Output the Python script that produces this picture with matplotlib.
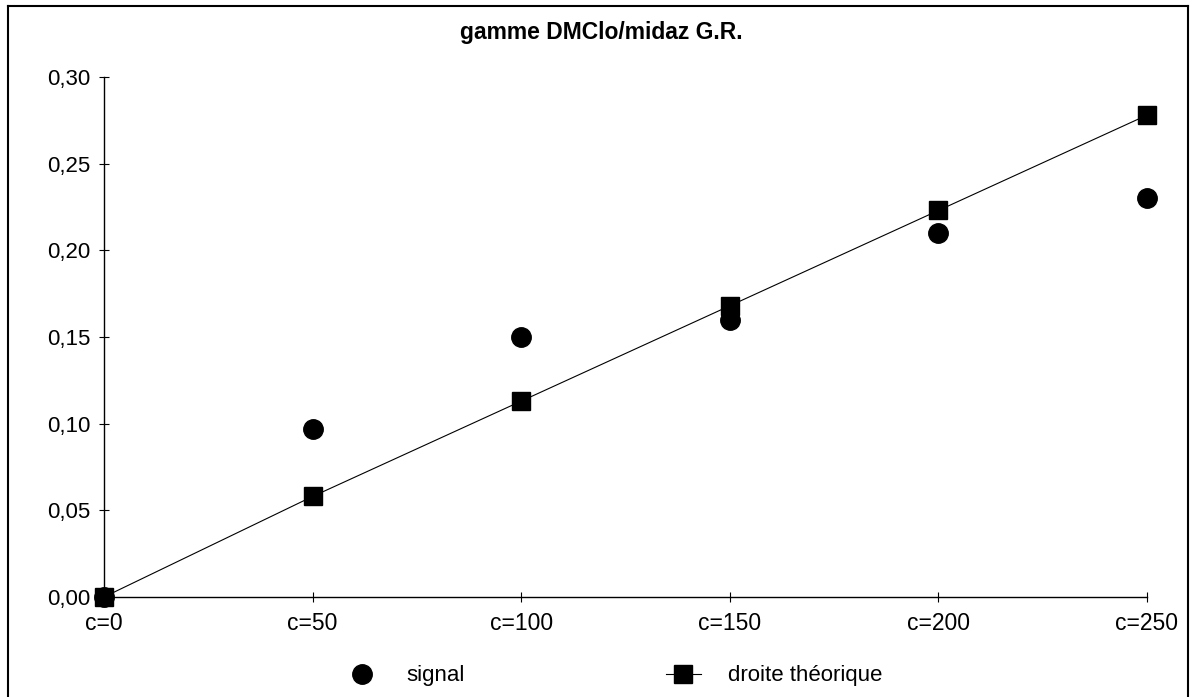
import matplotlib
matplotlib.use("Agg")
import matplotlib.pyplot as plt
from matplotlib.lines import Line2D
from matplotlib.ticker import FuncFormatter

plt.rcParams['font.family'] = ['Liberation Sans', 'DejaVu Sans']

categories = ["c=0", "c=50", "c=100", "c=150", "c=200", "c=250"]
signal = [0.0, 0.097, 0.150, 0.160, 0.210, 0.230]
droite = [0.0, 0.058, 0.113, 0.168, 0.223, 0.278]
yticks = [0.0, 0.05, 0.10, 0.15, 0.20, 0.25, 0.30]
title = "gamme DMClo/midaz G.R."

W, H = 1193, 697
fig = plt.figure(figsize=(W / 100, H / 100), dpi=100)
ax = fig.add_axes([104 / W, 1 - 597 / H, (1147 - 104) / W, (597 - 77) / H])

x = list(range(len(categories)))
ax.plot(x, signal, linestyle='none', marker='o', markersize=14,
        color='black', label='signal', zorder=3)
ax.plot(x, droite, linestyle='-', linewidth=0.8, marker='s', markersize=13,
        color='black', label='droite théorique', zorder=4)

ax.set_xlim(0, len(categories) - 1)
ax.set_ylim(0, 0.30)
ax.set_xticks(x)
ax.set_xticklabels(categories)
ax.set_yticks(yticks)
ax.yaxis.set_major_formatter(FuncFormatter(lambda v, p: f"{v:.2f}".replace('.', ',')))
for s in ['top', 'right']:
    ax.spines[s].set_visible(False)
for s in ['left', 'bottom']:
    ax.spines[s].set_linewidth(1.0)
ax.tick_params(axis='both', direction='inout', length=7, width=0.8,
               labelsize=16, colors='black')
ax.tick_params(axis='y', pad=6)
ax.tick_params(axis='x', pad=7, labelsize=16.5)
for m in [ax.spines['left'], ax.spines['bottom']]:
    m.set_clip_on(False)
for ln in ax.get_lines():
    ln.set_clip_on(False)

fig.text(601 / W, 1 - 33 / H, title, ha='center', va='center',
         fontsize=16.5, fontweight='bold')

handles = [
    Line2D([], [], linestyle='none', marker='o', markersize=14, color='black'),
    Line2D([], [], linestyle='-', linewidth=0.8, marker='s', markersize=13, color='black'),
]
fig.legend(handles, ['signal', 'droite théorique'], ncol=2, frameon=False,
           loc='center left', bbox_to_anchor=(344 / W, 1 - 676 / H),
           borderaxespad=0, borderpad=0, fontsize=16, handlelength=1.6,
           handletextpad=1.2, columnspacing=9.05)

# outer frame (left, top, right)
fx0, fx1, fy0 = 8 / W, 1188 / W, 1 - 6 / H
fig.add_artist(Line2D([fx0, fx0], [0, fy0], color='black', linewidth=1.5, transform=fig.transFigure))
fig.add_artist(Line2D([fx0, fx1], [fy0, fy0], color='black', linewidth=1.5, transform=fig.transFigure))
fig.add_artist(Line2D([fx1, fx1], [0, fy0], color='black', linewidth=1.5, transform=fig.transFigure))

fig.savefig("out.png", dpi=100)
